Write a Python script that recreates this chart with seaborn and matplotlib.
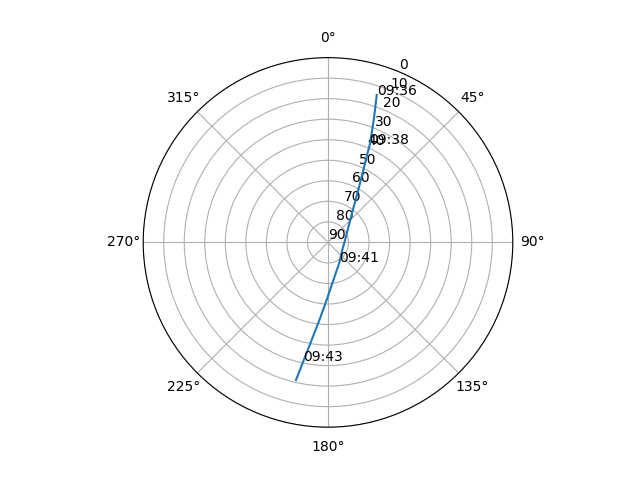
import numpy as np
import seaborn as sns
import matplotlib
matplotlib.use("Agg")
import matplotlib.pyplot as plt

# pass track: azimuth (deg) and elevation (deg)
az_path = [18.3, 20.3, 23.0, 30.0, 40.6, 82.0, 121.6, 149.6, 171.8, 181.3, 186.3, 189.5, 191.7, 193.1]
el_path = [14.4, 25.4, 37.5, 60.5, 72.4, 81.6, 82.0, 78.9, 71.5, 62.0, 52.0, 41.8, 31.0, 21.2]

# time labels along the track
lab_time = ["09:36", "09:38", "09:41", "09:43"]
lab_az = [18.3, 22.9, 149.6, 191.7]
lab_el = [14.4, 38.0, 78.9, 31.0]

fig = plt.figure(figsize=(6.4, 4.8), dpi=100)
ax = fig.add_subplot(111, projection="polar")
ax.set_theta_zero_location("N")
ax.set_theta_direction(-1)

sns.lineplot(x=np.radians(az_path), y=np.array(el_path), ax=ax, sort=False, color="C0")

for t, a, e in zip(lab_time, lab_az, lab_el):
    ax.text(np.radians(a), e, t)

ax.set_ylim(90, 0)
ax.set_yticks(range(0, 91, 10))
ax.grid(True)
ax.set_xlabel("")
ax.set_ylabel("")

fig.savefig("out.png", dpi=100)
